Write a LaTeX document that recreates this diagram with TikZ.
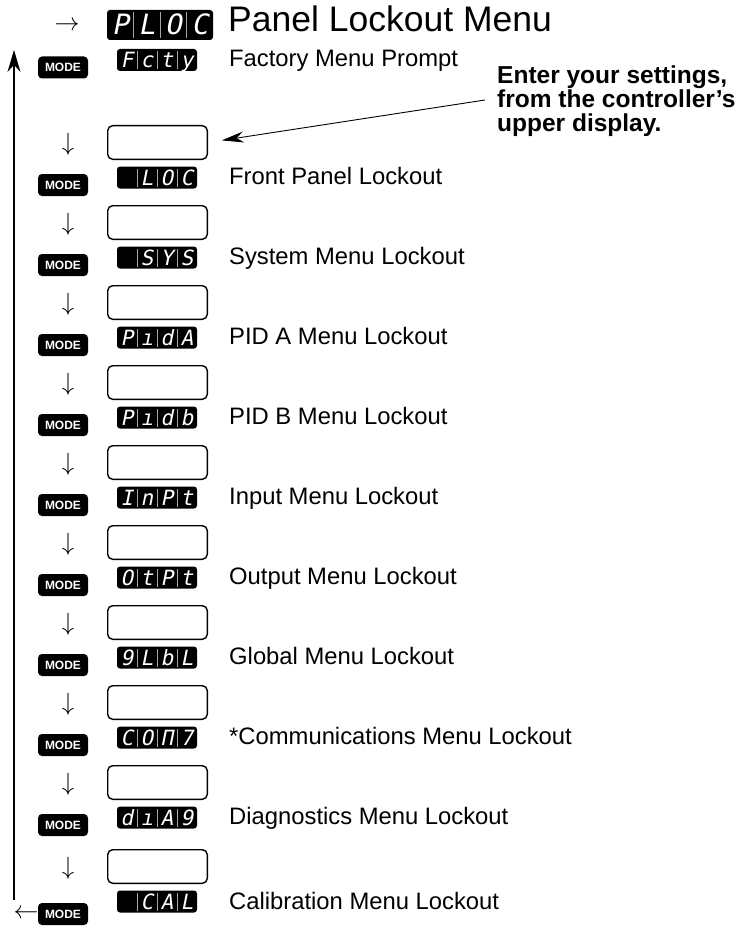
\documentclass[tikz,border=0pt]{standalone}
\usepackage{fontspec}
\setmainfont{Liberation Sans}
\newfontfamily\ledfont[FakeSlant=0.2]{DejaVu Sans Mono}
\usetikzlibrary{arrows.meta,calc}
\newcommand{\ledcell}[1]{\makebox[20pt]{#1}}
\newcommand{\led}[4]{\ledcell{#1}\ledcell{#2}\ledcell{#3}\ledcell{#4}}
\newcommand{\ledbig}[4]{\makebox[26.5pt]{#1}\makebox[26.5pt]{#2}\makebox[26.5pt]{#3}\makebox[26.5pt]{#4}}

\begin{document}
\begin{tikzpicture}[x=1pt, y=-1pt,
  disp/.style={fill=black, rounded corners=3pt, minimum width=80pt, minimum height=22pt, inner sep=0pt,
    text=white, text height=15pt, text depth=0pt, font=\ledfont\fontsize{21}{21}\selectfont,
    path picture={\foreach \f in {0.25,0.5,0.75}
      \draw[white!65!black, line width=0.7pt]
        ($(path picture bounding box.south west)!\f!(path picture bounding box.south east)+(0,2pt)$) --
        ($(path picture bounding box.north west)!\f!(path picture bounding box.north east)+(0,-2pt)$);}},
  bigdisp/.style={disp, minimum width=106pt, minimum height=30pt, text height=20pt, font=\ledfont\fontsize{28}{28}\selectfont},
  modekey/.style={fill=black, rounded corners=4pt, minimum width=50pt, minimum height=22pt, inner sep=0pt,
    text=white, font=\bfseries\fontsize{12}{12}\selectfont},
  entry/.style={draw, line width=1.4pt, rounded corners=5pt, minimum width=99.6pt, minimum height=33.6pt},
  lbl/.style={anchor=base west, inner sep=0pt, font=\fontsize{23.8}{24}\selectfont},
  flow/.style={inner sep=0pt, font=\fontsize{25}{25}\selectfont},
  pointer/.style={-{Stealth[length=22pt,width=11pt]}, line width=0.9pt, shorten >=14pt},
  loopback/.style={-{Stealth[length=22pt,width=13pt]}, line width=1.2pt}
]
  \useasboundingbox (0,0) rectangle (742,931);
  % Title row
  \node[flow] (enter) at (67,26) {$\rightarrow$};
  \node[bigdisp] (ploc) at (160,25) {\ledbig{P}{L}{O}{C}};
  \node[anchor=base west, inner sep=0pt, font=\fontsize{35.5}{36}\selectfont] (title) at (228,32) {Panel Lockout Menu};
  % Factory prompt
  \node[modekey] (m0) at (63,67.5) {MODE};
  \node[disp] (fcty) at (157,60) {\led{F}{c}{t}{y}};
  \node[lbl] (l0) at (229,67) {Factory Menu Prompt};
  % Front panel
  \node[flow] (a1) at (68,144) {$\downarrow$};
  \node[entry] (box1) at (157.5,142.5) {};
  \node[modekey] (m1) at (63,185) {MODE};
  \node[disp] (loc) at (157,177.5) {\led{}{L}{O}{C}};
  \node[lbl] (l1) at (229,184.5) {Front Panel Lockout};
  % System
  \node[flow] (a2) at (68,224) {$\downarrow$};
  \node[entry] (box2) at (157.5,222.5) {};
  \node[modekey] (m2) at (63,265) {MODE};
  \node[disp] (sys) at (157,257.5) {\led{}{S}{Y}{S}};
  \node[lbl] (l2) at (229,264.5) {System Menu Lockout};
  % PID A
  \node[flow] (a3) at (68,304) {$\downarrow$};
  \node[entry] (box3) at (157.5,302.5) {};
  \node[modekey] (m3) at (63,345) {MODE};
  \node[disp] (pida) at (157,337.5) {\led{P}{ı}{d}{A}};
  \node[lbl] (l3) at (229,344.5) {PID A Menu Lockout};
  % PID B
  \node[flow] (a4) at (68,384) {$\downarrow$};
  \node[entry] (box4) at (157.5,382.5) {};
  \node[modekey] (m4) at (63,425) {MODE};
  \node[disp] (pidb) at (157,417.5) {\led{P}{ı}{d}{b}};
  \node[lbl] (l4) at (229,424.5) {PID B Menu Lockout};
  % Input
  \node[flow] (a5) at (68,464) {$\downarrow$};
  \node[entry] (box5) at (157.5,462.5) {};
  \node[modekey] (m5) at (63,505) {MODE};
  \node[disp] (inpt) at (157,497.5) {\led{I}{n}{P}{t}};
  \node[lbl] (l5) at (229,504.5) {Input Menu Lockout};
  % Output
  \node[flow] (a6) at (68,544) {$\downarrow$};
  \node[entry] (box6) at (157.5,542.5) {};
  \node[modekey] (m6) at (63,585) {MODE};
  \node[disp] (otpt) at (157,577.5) {\led{O}{t}{P}{t}};
  \node[lbl] (l6) at (229,584.5) {Output Menu Lockout};
  % Global
  \node[flow] (a7) at (68,624) {$\downarrow$};
  \node[entry] (box7) at (157.5,622.5) {};
  \node[modekey] (m7) at (63,665) {MODE};
  \node[disp] (glbl) at (157,657.5) {\led{9}{L}{b}{L}};
  \node[lbl] (l7) at (229,664.5) {Global Menu Lockout};
  % Communications
  \node[flow] (a8) at (68,704) {$\downarrow$};
  \node[entry] (box8) at (157.5,702.5) {};
  \node[modekey] (m8) at (63,745) {MODE};
  \node[disp] (comm) at (157,737.5) {\led{C}{O}{Π}{7}};
  \node[lbl] (l8) at (229,744.5) {*Communications Menu Lockout};
  % Diagnostics
  \node[flow] (a9) at (68,784) {$\downarrow$};
  \node[entry] (box9) at (157.5,782.5) {};
  \node[modekey] (m9) at (63,825) {MODE};
  \node[disp] (diag) at (157,817.5) {\led{d}{ı}{A}{9}};
  \node[lbl] (l9) at (229,824.5) {Diagnostics Menu Lockout};
  % Calibration
  \node[flow] (a10) at (68,868) {$\downarrow$};
  \node[entry] (box10) at (157.5,866.5) {};
  \node[modekey] (m10) at (63,914) {MODE};
  \node[disp] (cal) at (157,901.5) {\led{}{C}{A}{L}};
  \node[lbl] (l10) at (229,909) {Calibration Menu Lockout};
  % Return to top
  \node[flow] (back) at (26,914) {$\leftarrow$};
  \coordinate (loopfoot) at (14,900);
  \coordinate (loophead) at (14,50);
  \draw[loopback] (loopfoot) -- (loophead);
  % Callout
  \node[anchor=north west, inner sep=0pt, align=left, font=\bfseries\fontsize{24.5}{24}\selectfont] (hint) at (497,66)
    {Enter your settings,\\from the controller’s\\upper display.};
  \coordinate (hinttail) at (485,100);
  \draw[pointer] (hinttail) -- (box1.east);
\end{tikzpicture}
\end{document}
